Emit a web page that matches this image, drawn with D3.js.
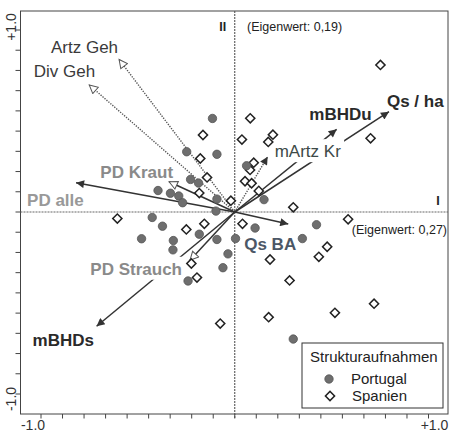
<!DOCTYPE html>
<html>
<head>
<meta charset="utf-8">
<script src="https://cdn.jsdelivr.net/npm/d3@7"></script>
<style>
  body { margin: 0; background: #fff; }
  text { font-family: "Liberation Sans", Arial, sans-serif; }
</style>
</head>
<body>
<svg id="chart" width="450" height="434"></svg>
<script>
// site scores on axis I / axis II
const portugalX = [-0.115, -0.248, -0.092, 0.061, -0.228, -0.187, -0.396, -0.332, -0.289, -0.269, -0.092, 0.151, -0.097, -0.426, -0.373, -0.481, -0.317, -0.319, -0.183, -0.092, 0.004, 0.105, 0.422, 0.349, -0.035, -0.061, -0.241, 0.302];
const portugalY = [0.514, 0.331, 0.317, 0.254, 0.179, 0.159, 0.118, 0.103, 0.088, 0.051, 0.071, 0.068, 0.005, -0.030, -0.078, -0.147, -0.157, -0.208, -0.122, -0.151, -0.146, -0.088, -0.070, -0.146, -0.230, -0.306, -0.379, -0.698];
const spanienX = [0.752, 0.080, -0.164, 0.037, 0.197, 0.173, 0.701, -0.178, 0.098, 0.079, -0.143, 0.053, 0.087, 0.124, -0.183, -0.020, 0.302, -0.606, -0.250, -0.157, 0.040, 0.585, 0.477, 0.434, 0.182, -0.224, -0.195, 0.283, 0.719, 0.517, 0.175, -0.075];
const spanienY = [0.808, 0.515, 0.423, 0.398, 0.425, 0.385, 0.405, 0.294, 0.271, 0.231, 0.190, 0.169, 0.158, 0.116, 0.104, 0.062, 0.026, -0.036, -0.096, -0.065, -0.065, -0.040, -0.191, -0.246, -0.261, -0.283, -0.360, -0.376, -0.504, -0.554, -0.578, -0.613];

// environmental vectors
const vecNames = ["Artz Geh", "Div Geh", "PD Kraut", "PD alle", "mArtz Kr", "mBHDu", "Qs / ha", "Qs BA", "PD Strauch", "mBHDs"];
const vecX = [-0.597, -0.751, -0.339, -0.819, 0.170, 0.526, 0.796, 0.276, -0.231, -0.713];
const vecY = [0.838, 0.698, 0.166, 0.161, 0.304, 0.454, 0.551, -0.066, -0.265, -0.628];

const tickLabels = ["-1.0", "+1.0"];
const legendTitle = "Strukturaufnahmen";
const groupNames = ["Portugal", "Spanien"];

// label / line look for each vector
const vecStyle = {
  "Artz Geh":   { dash: true,  head: "open",   anchor: "end",   dx: -1,  dy: -6,  color: "#3a3a3a", bold: false },
  "Div Geh":    { dash: true,  head: "open",   anchor: "end",   dx: 6,   dy: -7.5, color: "#3a3a3a", bold: false },
  "PD Kraut":   { dash: false, head: "open",   anchor: "end",   dx: 4,   dy: -4,  color: "#8a8a8a", bold: true },
  "PD alle":    { dash: false, head: "filled", anchor: "start", dx: -49, dy: 23,  color: "#999",    bold: true },
  "mArtz Kr":   { dash: true,  head: "filled", anchor: "start", dx: 7,   dy: 0.5, color: "#3d4a48", bold: false, box: true },
  "mBHDu":      { dash: false, head: "filled", anchor: "end",   dx: 35,  dy: -9,  color: "#2a2a2a", bold: true },
  "Qs / ha":    { dash: false, head: "filled", anchor: "start", dx: -2,  dy: -4.5, color: "#2a2a2a", bold: true },
  "Qs BA":      { dash: false, head: "filled", anchor: "start", dx: -44, dy: 26,  color: "#4c5766", bold: true },
  "PD Strauch": { dash: false, head: "open",   anchor: "end",   dx: -8,  dy: 14.5, color: "#8a8a8a", bold: true, box: true },
  "mBHDs":      { dash: false, head: "filled", anchor: "start", dx: -64, dy: 20,  color: "#2a2a2a", bold: true }
};

const svg = d3.select("#chart");
const frame = { left: 20.5, top: 11, right: 448, bottom: 414 };

const x = d3.scaleLinear().domain([-1, 1]).range([41, 428.5]);
const y = d3.scaleLinear().domain([-1, 1]).range([394, 30]);
const ticks = d3.range(-9, 10).map(i => i / 9);

// markers for arrow heads
const defs = svg.append("defs");
defs.append("marker").attr("id", "filled")
  .attr("viewBox", "0 0 10 10").attr("refX", 10).attr("refY", 5)
  .attr("markerUnits", "userSpaceOnUse").attr("markerWidth", 11).attr("markerHeight", 8)
  .attr("orient", "auto")
  .append("path").attr("d", "M0,0L10,5L0,10Z").attr("fill", "#333");
defs.append("marker").attr("id", "open")
  .attr("viewBox", "-1 -1 12 12").attr("refX", 10).attr("refY", 5)
  .attr("markerUnits", "userSpaceOnUse").attr("markerWidth", 12).attr("markerHeight", 10)
  .attr("orient", "auto")
  .append("path").attr("d", "M0,0L10,5L0,10Z").attr("fill", "#fff").attr("stroke", "#555").attr("stroke-width", 1.2);

// frame
svg.append("rect")
  .attr("x", frame.left).attr("y", frame.top)
  .attr("width", frame.right - frame.left).attr("height", frame.bottom - frame.top)
  .attr("fill", "none").attr("stroke", "#444").attr("stroke-width", 1);

// ticks on the bottom and left edges
svg.append("g").selectAll("line").data(ticks).join("line")
  .attr("x1", d => x(d)).attr("x2", d => x(d))
  .attr("y1", frame.bottom).attr("y2", frame.bottom + 4.5)
  .attr("stroke", "#444");
svg.append("g").selectAll("line").data(ticks).join("line")
  .attr("y1", d => y(d)).attr("y2", d => y(d))
  .attr("x1", frame.left - 5).attr("x2", frame.left)
  .attr("stroke", "#444");

// zero lines
svg.append("line")
  .attr("x1", x(0)).attr("x2", x(0)).attr("y1", frame.top).attr("y2", frame.bottom + 4)
  .attr("stroke", "#555").attr("stroke-width", 1.1).attr("stroke-dasharray", "2,1");
svg.append("line")
  .attr("x1", frame.left).attr("x2", frame.right).attr("y1", y(0)).attr("y2", y(0))
  .attr("stroke", "#666").attr("stroke-width", 1.1).attr("stroke-dasharray", "2,1");

// tick labels
svg.append("text").attr("x", x(-1) - 8).attr("y", 430).attr("text-anchor", "middle")
  .attr("font-size", 14).attr("fill", "#333").text(tickLabels[0]);
svg.append("text").attr("x", x(1) + 6).attr("y", 430).attr("text-anchor", "middle")
  .attr("font-size", 14).attr("fill", "#333").text(tickLabels[1]);
svg.append("text").attr("transform", `translate(16,${y(1) - 3}) rotate(-90)`).attr("text-anchor", "middle")
  .attr("font-size", 14).attr("fill", "#333").text(tickLabels[1]);
svg.append("text").attr("transform", `translate(16,${y(-1) + 5}) rotate(-90)`).attr("text-anchor", "middle")
  .attr("font-size", 14).attr("fill", "#333").text(tickLabels[0]);

// axis names
svg.append("text").attr("x", x(0) - 12).attr("y", 30.5).attr("text-anchor", "middle")
  .attr("font-size", 12.5).attr("font-weight", "bold").attr("fill", "#222").text("II");
svg.append("text").attr("x", 247).attr("y", 31).attr("font-size", 12.5).attr("fill", "#222").text("(Eigenwert: 0,19)");
svg.append("text").attr("x", 438).attr("y", 204.5).attr("text-anchor", "middle")
  .attr("font-size", 12.5).attr("font-weight", "bold").attr("fill", "#222").text("I");
svg.append("text").attr("x", 447).attr("y", 234).attr("text-anchor", "end").attr("font-size", 12.5).attr("fill", "#222").text("(Eigenwert: 0,27)");

// vectors
const vectors = vecNames.map((n, i) => ({ name: n, vx: vecX[i], vy: vecY[i], s: vecStyle[n] }));

svg.append("g").selectAll("line").data(vectors).join("line")
  .attr("x1", x(0)).attr("y1", y(0))
  .attr("x2", d => x(d.vx)).attr("y2", d => y(d.vy))
  .attr("stroke", d => d.s.dash ? "#555" : "#333")
  .attr("stroke-width", d => d.s.dash ? 1.4 : 1.5)
  .attr("stroke-dasharray", d => d.s.dash ? "1.3,1.3" : null)
  .attr("marker-end", d => `url(#${d.s.head})`);

// labels (some sit on a white box that hides the lines behind)
const labG = svg.append("g");
vectors.forEach(d => {
  const t = labG.append("text")
    .attr("x", x(d.vx) + d.s.dx).attr("y", y(d.vy) + d.s.dy)
    .attr("text-anchor", d.s.anchor)
    .attr("font-size", 17)
    .attr("font-weight", d.s.bold ? "bold" : "normal")
    .attr("fill", d.s.color)
    .text(d.name);
  if (d.s.box) {
    const b = t.node().getBBox();
    labG.insert("rect", () => t.node())
      .attr("x", b.x - 3).attr("y", b.y - 3)
      .attr("width", b.width + 6).attr("height", b.height + 4)
      .attr("fill", "#fff");
  }
});

// site points
const diamond = d3.symbol().type(d3.symbolSquare).size(42);
svg.append("g").selectAll("path").data(d3.range(spanienX.length)).join("path")
  .attr("d", diamond)
  .attr("transform", i => `translate(${x(spanienX[i])},${y(spanienY[i])}) rotate(45)`)
  .attr("fill", "#fff").attr("stroke", "#222").attr("stroke-width", 1.5);
svg.append("g").selectAll("circle").data(d3.range(portugalX.length)).join("circle")
  .attr("cx", i => x(portugalX[i])).attr("cy", i => y(portugalY[i]))
  .attr("r", 4.2).attr("fill", "#6e6e6e").attr("stroke", "#555").attr("stroke-width", 0.8);

// legend
const leg = svg.append("g");
leg.append("rect").attr("x", 302).attr("y", 343).attr("width", 141).attr("height", 65)
  .attr("fill", "#fff").attr("stroke", "#333").attr("stroke-width", 1);
leg.append("text").attr("x", 310).attr("y", 362).attr("font-size", 15).attr("fill", "#222").text(legendTitle);
leg.append("circle").attr("cx", 329).attr("cy", 379).attr("r", 4.2).attr("fill", "#6e6e6e").attr("stroke", "#555").attr("stroke-width", 0.8);
leg.append("text").attr("x", 351).attr("y", 384).attr("font-size", 15).attr("fill", "#222").text(groupNames[0]);
leg.append("path").attr("d", diamond).attr("transform", "translate(330,396) rotate(45)")
  .attr("fill", "#fff").attr("stroke", "#222").attr("stroke-width", 1.5);
leg.append("text").attr("x", 352).attr("y", 401).attr("font-size", 15).attr("fill", "#222").text(groupNames[1]);
</script>
</body>
</html>
